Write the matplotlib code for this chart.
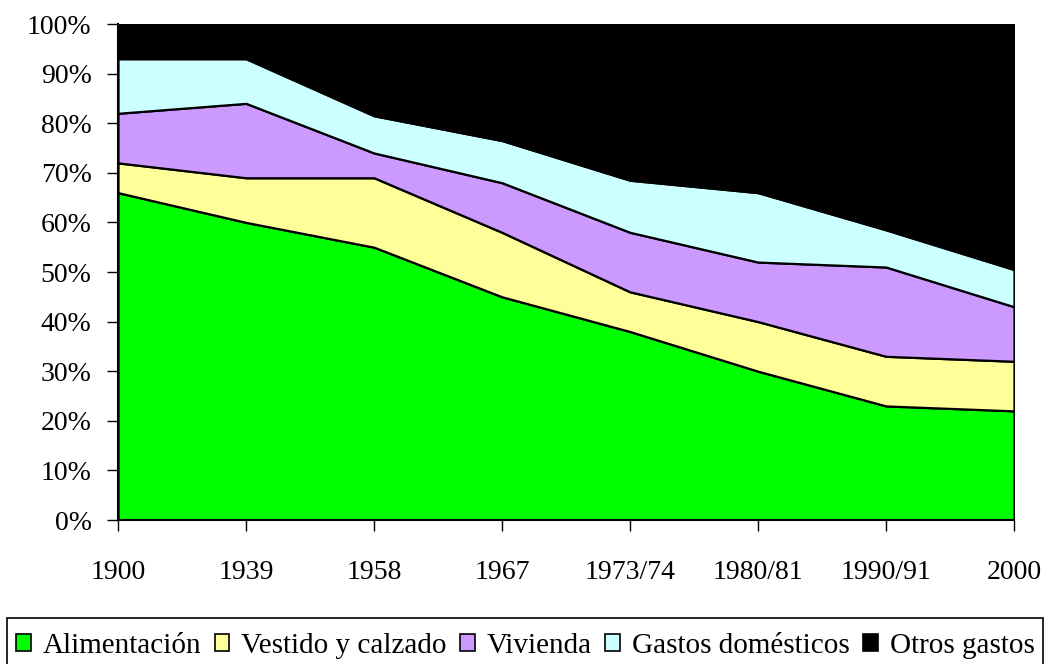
import matplotlib
matplotlib.use("Agg")
import matplotlib.pyplot as plt
from matplotlib.patches import Patch, Rectangle

plt.rcParams['font.family'] = ['Liberation Serif', 'DejaVu Serif']

periodos = ['1900', '1939', '1958', '1967', '1973/74', '1980/81', '1990/91', '2000']
alimentacion = [66, 60, 55, 45, 38, 30, 23, 22]
vestido = [6, 9, 14, 13, 8, 10, 10, 10]
vivienda = [10, 15, 5, 10, 12, 12, 18, 11]
gastos_dom = [11, 9, 7.5, 8.5, 10.5, 14, 7.5, 7.5]
otros = [7, 7, 18.5, 23.5, 31.5, 34, 41.5, 49.5]

nombres = ['Alimentación', 'Vestido y calzado', 'Vivienda', 'Gastos domésticos', 'Otros gastos']
colores = ['#00FF00', '#FFFF99', '#CC99FF', '#CCFFFF', '#000000']

fig = plt.figure(figsize=(10.45, 6.64), dpi=100)
ax = fig.add_axes([118/1045, 1-520/664, (1014-118)/1045, (520-24)/664])

x = list(range(len(periodos)))
ax.stackplot(x, alimentacion, vestido, vivienda, gastos_dom, otros,
             colors=colores, edgecolor='black', linewidth=1.6)

ax.set_xlim(0, len(periodos)-1)
ax.set_ylim(0, 100)
ax.set_xticks(x)
ax.set_xticklabels(periodos)
ax.set_yticks(range(0, 101, 10))
ax.set_yticklabels([f'{v}%' for v in range(0, 101, 10)])
ax.tick_params(axis='y', direction='out', length=8, width=1, pad=11, labelsize=20)
ax.tick_params(axis='x', direction='out', length=8, width=1, pad=21, labelsize=20)
ax.spines['top'].set_visible(False)
ax.spines['right'].set_visible(False)
ax.spines['left'].set_linewidth(1.5)
ax.spines['bottom'].set_linewidth(1.5)

# marco de la leyenda (el borde inferior queda fuera de la imagen)
fig.add_artist(Rectangle((7/1045, -0.05), (1043-7)/1045, 1-618/664+0.05,
                         transform=fig.transFigure, fill=False,
                         edgecolor='black', linewidth=1.2))

handles = [Patch(facecolor=c, edgecolor='black', linewidth=1.2) for c in colores]
leg = fig.legend(handles, nombres, loc='center left', bbox_to_anchor=(16/1045, 1-646/664),
                 ncol=5, fontsize=21, frameon=False, borderaxespad=0, borderpad=0,
                 handlelength=0.51, handleheight=0.51, handletextpad=0.41, columnspacing=0.45)

fig.savefig('out.png', dpi=100)
